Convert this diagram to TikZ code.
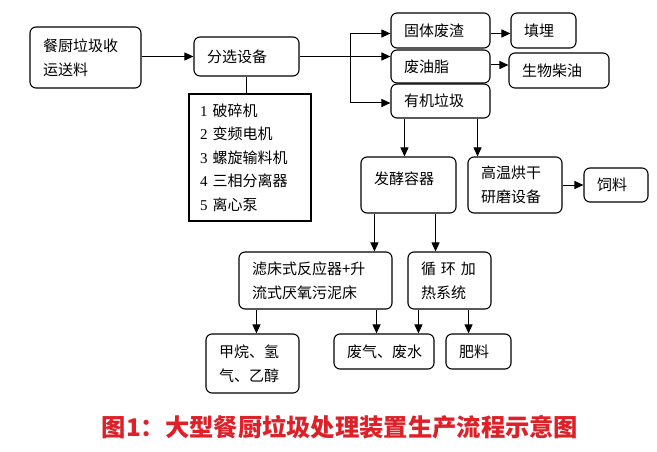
\documentclass[tikz,border=0pt]{standalone}
\usepackage{fontspec}
\setmainfont{Noto Sans CJK SC}
\newfontfamily\numfont{Liberation Serif}
\usetikzlibrary{arrows.meta}
\definecolor{capred}{RGB}{222,32,40}
\begin{document}
\begin{tikzpicture}[x=1pt,y=-1pt,
        box/.style={draw,line width=1.1pt,rounded corners=6pt,align=left,inner xsep=13pt,inner ysep=0pt,font=\fontsize{15}{24}\selectfont},
        arr/.style={line width=1pt,-{Triangle[length=9pt,width=8pt]}},
        link/.style={line width=1pt}]
        \useasboundingbox (0,0) rectangle (657,452);
        % first row
        \node [box,minimum width=111pt,minimum height=61pt,text width=85pt] (feed) at (85.5,57.5) {餐厨垃圾收\\运送料};
        \node [box,minimum width=105pt,minimum height=39pt,text width=79pt] (sort) at (246.5,56.5) {分选设备};
        \node [box,rounded corners=0pt,inner xsep=11pt,minimum width=122pt,minimum height=127pt,text width=100pt,font=\fontsize{15}{23.5}\selectfont] (list) at (250,157.5)
            {{\numfont 1} 破碎机\\{\numfont 2} 变频电机\\{\numfont 3} 螺旋输料机\\{\numfont 4} 三相分离器\\{\numfont 5} 离心泵};
        \node [box,minimum width=99pt,minimum height=35pt,text width=73pt] (solid) at (440.5,30.5) {固体废渣};
        \node [box,minimum width=99pt,minimum height=33pt,text width=73pt] (oil) at (440.5,66.5) {废油脂};
        \node [box,minimum width=99pt,minimum height=34pt,text width=73pt] (organic) at (440.5,101) {有机垃圾};
        \node [box,minimum width=65pt,minimum height=35pt,text width=39pt] (landfill) at (543.5,30.5) {填埋};
        \node [box,minimum width=100pt,minimum height=35pt,text width=74pt] (biodiesel) at (559,70.5) {生物柴油};
        % second row
        \node [box,minimum width=95pt,minimum height=56pt,text width=69pt] (ferment) at (408.5,185) {发酵容器\\[-10pt]\mbox{}};
        \node [box,minimum width=94pt,minimum height=56pt,text width=68pt] (dryer) at (515,185) {高温烘干\\研磨设备};
        \node [box,minimum width=64pt,minimum height=34pt,text width=38pt] (fodder) at (616,185) {饲料};
        % third row
        \node [box,minimum width=153pt,minimum height=57pt,text width=127pt] (reactor) at (315.5,280.5) {滤床式反应器+升\\流式厌氧污泥床};
        \node [box,minimum width=83pt,minimum height=57pt,text width=57pt] (heater) at (449.5,280.5) {循 环 加\\热系统};
        \node [box,minimum width=93pt,minimum height=59pt,text width=67pt] (biogas) at (252.5,363.5) {甲烷、氢\\气、乙醇};
        \node [box,minimum width=100pt,minimum height=35pt,text width=74pt] (waste) at (384,351.5) {废气、废水};
        \node [box,minimum width=65pt,minimum height=35pt,text width=39pt] (fertilizer) at (478.5,351.5) {肥料};
        % caption
        \node [text=capred,font=\fontsize{24.3}{28}\selectfont\bfseries] (caption) at (340,427) {图1：大型餐厨垃圾处理装置生产流程示意图};
        % connectors
        \coordinate (split) at (350,56.5);
        \draw [arr] (feed.east |- sort.west) -- (sort.west);
        \draw [link] (sort.south) -- (sort.south |- list.north);
        \draw [link] (sort.east) -- (split);
        \draw [arr] (split) -- (split -| oil.west);
        \draw [arr] (split) |- ([yshift=-3pt]solid.west);
        \draw [arr] (split) |- ([yshift=-2pt]organic.west);
        \draw [arr] ([yshift=-3pt]solid.east) -- ([yshift=-3pt]solid.east -| landfill.west);
        \draw [arr] ([yshift=1.5pt]oil.east) -- ([yshift=1.5pt]oil.east -| biodiesel.west);
        \draw [arr] ([xshift=14pt]organic.south west) -- ([xshift=14pt]organic.south west |- ferment.north);
        \draw [arr] ([xshift=-13pt]organic.south east) -- ([xshift=-13pt]organic.south east |- dryer.north);
        \draw [arr] (dryer.east) -- (fodder.west);
        \draw [arr] ([xshift=14pt]ferment.south west) -- ([xshift=14pt]ferment.south west |- reactor.north);
        \draw [arr] ([xshift=-21pt]ferment.south east) -- ([xshift=-21pt]ferment.south east |- heater.north);
        \draw [arr] ([xshift=18pt]reactor.south west) -- ([xshift=18pt]reactor.south west |- biogas.north);
        \draw [arr] ([xshift=-16pt]reactor.south east) -- ([xshift=-16pt]reactor.south east |- waste.north);
        \draw [arr] ([xshift=11pt]heater.south west) -- ([xshift=11pt]heater.south west |- waste.north);
        \draw [arr] ([xshift=-23pt]heater.south east) -- ([xshift=-23pt]heater.south east |- fertilizer.north);
\end{tikzpicture}
\end{document}
